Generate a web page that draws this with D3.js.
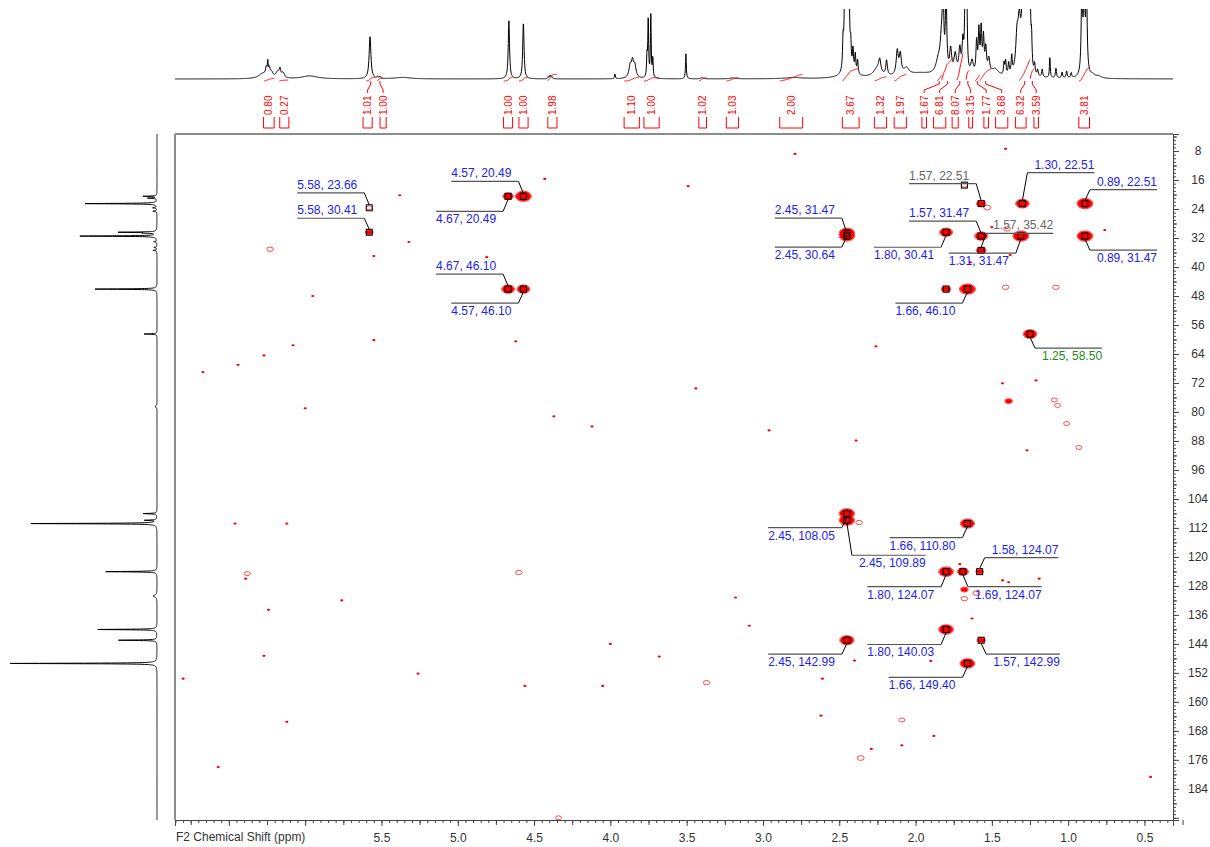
<!DOCTYPE html>
<html>
<head>
<meta charset="utf-8">
<script src="https://cdn.jsdelivr.net/npm/d3@7"></script>
<style>
  body { margin: 0; background: #fff; }
  text { font-family: "Liberation Sans", Arial, sans-serif; }
</style>
</head>
<body>
<script>
// ---- data ----

// labelled cross peaks: [1H ppm, 13C ppm, relative intensity, group]
const crossPeaks = [
  [5.58, 23.66, 0.15, "b"], [5.58, 30.41, 0.3, "b"],
  [4.57, 20.49, 1.0, "b"], [4.67, 20.49, 0.55, "b"],
  [4.67, 46.10, 0.75, "b"], [4.57, 46.10, 0.75, "b"],
  [2.45, 31.47, 0.95, "b"], [2.45, 30.64, 0.95, "b"],
  [1.57, 22.51, 0.45, "g"], [1.30, 22.51, 0.8, "b"], [0.89, 22.51, 1.0, "b"],
  [1.57, 31.47, 0.75, "b"], [1.80, 30.41, 0.75, "b"], [1.57, 35.42, 0.5, "g"],
  [1.31, 31.47, 1.0, "b"], [0.89, 31.47, 1.0, "b"],
  [1.66, 46.10, 1.0, "b"], [1.25, 58.50, 0.8, "h"],
  [2.45, 108.05, 0.95, "b"], [2.45, 109.89, 0.95, "b"], [1.66, 110.80, 0.85, "b"],
  [1.58, 124.07, 0.3, "b"], [1.80, 124.07, 0.9, "b"], [1.69, 124.07, 0.6, "b"],
  [1.80, 140.03, 0.9, "b"], [2.45, 142.99, 0.85, "b"], [1.57, 142.99, 0.35, "b"],
  [1.66, 149.40, 0.9, "b"]
];

// peaks picked but not labelled
const markedOnly = [[1.68, 17.4, 0.2], [1.80, 46.10, 0.45]];

// weak contours / noise: [1H ppm, 13C ppm, intensity]
const noiseSpots = [
  [2.79, 8.8, 0.08], [1.41, 7.4, 0.08], [4.43, 15.7, 0.06], [5.38, 20.2, 0.08],
  [5.32, 33.1, 0.06], [5.55, 37.0, 0.08], [6.23, 35.1, 0.2], [5.95, 48.0, 0.08],
  [3.49, 17.7, 0.06], [4.81, 37.3, 0.05], [1.41, 45.6, 0.2], [1.08, 45.6, 0.2],
  [5.55, 60.2, 0.08], [4.62, 60.5, 0.08], [6.27, 64.4, 0.1], [6.08, 61.6, 0.05],
  [6.67, 69.0, 0.06], [6.44, 67.0, 0.05], [2.26, 61.9, 0.08], [1.43, 72.1, 0.06],
  [1.21, 71.3, 0.06], [1.39, 77.0, 0.3], [1.09, 76.7, 0.15], [1.07, 78.2, 0.15],
  [1.01, 83.2, 0.15], [0.93, 89.8, 0.15], [1.27, 90.6, 0.08], [3.44, 73.5, 0.06],
  [4.37, 81.2, 0.12], [4.12, 84.0, 0.05], [2.96, 85.1, 0.08], [2.39, 87.9, 0.08],
  [6.0, 79.0, 0.05], [6.12, 110.8, 0.12], [6.46, 110.8, 0.05], [6.38, 124.6, 0.15],
  [6.39, 126.0, 0.12], [4.60, 124.3, 0.2], [6.24, 134.6, 0.06], [5.76, 132.0, 0.12],
  [3.18, 131.2, 0.08], [3.09, 139.0, 0.05], [4.0, 144.0, 0.12], [3.68, 147.5, 0.08],
  [6.27, 147.3, 0.06], [6.80, 153.6, 0.08], [5.26, 152.2, 0.06], [4.56, 155.6, 0.12],
  [4.05, 155.6, 0.05], [3.37, 154.7, 0.2], [2.61, 153.6, 0.05], [2.40, 148.6, 0.08],
  [6.12, 165.5, 0.08], [2.62, 163.8, 0.05], [2.09, 165.0, 0.15], [2.29, 173.0, 0.05],
  [2.36, 175.5, 0.25], [6.57, 178.0, 0.05], [0.46, 180.7, 0.1], [4.34, 192.0, 0.15],
  [1.68, 129.0, 0.3], [1.60, 130.0, 0.25], [1.68, 131.5, 0.2], [1.71, 122.0, 0.1],
  [1.43, 126.5, 0.1], [1.63, 137.0, 0.08], [1.90, 148.7, 0.06], [1.88, 169.4, 0.06],
  [2.09, 172.0, 0.1], [0.76, 29.8, 0.06], [1.50, 29.0, 0.06], [1.64, 38.7, 0.06],
  [1.38, 36.7, 0.1], [1.53, 23.6, 0.25], [1.40, 29.5, 0.2], [2.37, 110.5, 0.2],
  [1.19, 126.0, 0.1], [1.39, 127.0, 0.06]
];

// 1H projection: [ppm, height, half width]
const protonPeaks = [
  [6.28, 5, 0.03], [6.255, 8, 0.006], [6.245, 12, 0.003], [6.235, 8, 0.006], [6.22, 5, 0.01],
  [6.18, 6, 0.015], [6.165, 7, 0.006], [6.145, 5, 0.01], [5.97, 3, 0.06],
  [5.575, 42, 0.007], [5.525, 2, 0.004], [5.51, 2, 0.004], [5.36, 1.5, 0.06],
  [4.665, 58, 0.005], [4.57, 57, 0.005],
  [4.405, 2.5, 0.004], [4.395, 3, 0.004], [4.385, 2.5, 0.004], [3.97, 5, 0.003],
  [3.87, 12, 0.01], [3.855, 14, 0.008], [3.84, 12, 0.01],
  [3.76, 21, 0.003], [3.752, 62, 0.003], [3.735, 62, 0.003], [3.722, 20, 0.003],
  [3.505, 25, 0.003], [3.40, 1.2, 0.01], [3.20, 1.0, 0.02], [2.80, 1.2, 0.06],
  [2.475, 30, 0.004], [2.465, 70, 0.004], [2.455, 75, 0.004], [2.445, 72, 0.004],
  [2.435, 65, 0.004], [2.425, 25, 0.004], [2.41, 22, 0.004], [2.395, 18, 0.004],
  [2.38, 14, 0.004], [2.44, 6, 0.05],
  [2.25, 9, 0.03], [2.235, 12, 0.008], [2.19, 15, 0.006], [2.12, 24, 0.008],
  [2.10, 20, 0.008], [2.06, 7, 0.02], [1.97, 5, 0.12],
  [1.85, 14, 0.02], [1.83, 28, 0.01], [1.82, 80, 0.005], [1.80, 80, 0.005],
  [1.77, 24, 0.008], [1.74, 20, 0.01], [1.71, 25, 0.008], [1.69, 30, 0.006],
  [1.675, 90, 0.004], [1.665, 90, 0.004], [1.63, 14, 0.01],
  [1.60, 32, 0.005], [1.585, 42, 0.005], [1.57, 45, 0.005], [1.555, 35, 0.005],
  [1.54, 25, 0.006], [1.52, 15, 0.008], [1.48, 8, 0.03],
  [1.42, 12, 0.004], [1.41, 14, 0.004], [1.39, 12, 0.004], [1.37, 18, 0.004],
  [1.335, 35, 0.01], [1.32, 45, 0.01], [1.30, 55, 0.01], [1.285, 80, 0.005],
  [1.27, 90, 0.005], [1.26, 90, 0.005], [1.25, 80, 0.004], [1.24, 30, 0.004],
  [1.22, 10, 0.004], [1.20, 6, 0.004], [1.17, 8, 0.004], [1.12, 22, 0.003],
  [1.08, 10, 0.004], [1.04, 6, 0.004], [1.01, 7, 0.004], [0.98, 5, 0.004],
  [0.91, 90, 0.005], [0.895, 95, 0.005], [0.88, 90, 0.005], [0.84, 3, 0.02], [0.80, 2, 0.02]
];

// 13C projection: [ppm, height, half width]
const carbonPeaks = [
  [20.49, 14, 0.08], [21.0, 9, 0.08], [22.51, 73, 0.08], [23.66, 4, 0.1], [24.6, 4, 0.1],
  [30.41, 38, 0.08], [30.64, 10, 0.08], [31.47, 78, 0.08], [33.0, 3, 0.1], [34.6, 3, 0.1],
  [35.42, 4, 0.1], [46.10, 62, 0.08], [58.50, 13, 0.08], [78.5, 2, 0.2],
  [108.05, 14, 0.08], [109.89, 12, 0.08], [110.80, 126, 0.08],
  [124.07, 52, 0.08], [130.8, 4, 0.3], [140.03, 60, 0.08], [142.99, 39, 0.08], [149.40, 147, 0.08]
];

// 1H integrals
const integralFrom = [6.27, 6.17, 5.60, 5.53, 4.70, 4.60, 4.41, 3.91, 3.78, 3.42, 3.24, 2.89,
  2.48, 2.27, 2.14, 1.86, 1.83, 1.73, 1.67, 1.61, 1.58, 1.32, 1.25, 0.93];
const integralTo = [6.20, 6.11, 5.54, 5.49, 4.64, 4.54, 4.35, 3.81, 3.68, 3.37, 3.16, 2.74,
  2.37, 2.19, 2.06, 1.83, 1.75, 1.69, 1.645, 1.58, 1.50, 1.25, 1.22, 0.86];
const integralValue = [0.80, 0.27, 1.01, 1.00, 1.00, 1.00, 1.98, 1.10, 1.00, 1.02, 1.03, 2.00,
  3.67, 1.32, 1.97, 1.67, 6.81, 8.07, 3.15, 1.77, 3.68, 6.32, 3.59, 3.81];

// axis ticks
const xTickLabels = [0.5, 1.0, 1.5, 2.0, 2.5, 3.0, 3.5, 4.0, 4.5, 5.0, 5.5];
const yTickLabels = d3.range(8, 185, 8);

// label placement (side of the leader, vertical offset in px), same order as crossPeaks
const leaderLayout = [
  ["L", -15], ["L", -14], ["L", -15], ["L", 15], ["L", -15], ["L", 14], ["L", -18], ["L", 14],
  ["L", -20], ["R", -31], ["R", -14], ["L", -15], ["L", 15], ["R", -17], ["L", 17], ["R", 14],
  ["L", 14], ["R", 14], ["L", 14], ["R", 35], ["L", 14], ["R", -14], ["L", 15], ["R", 15],
  ["L", 15], ["L", 14], ["R", 14], ["L", 14]
];

// ---- drawing ----
const svg = d3.select("body").append("svg").attr("width", 1210).attr("height", 847);

const x = d3.scaleLinear().domain([6.853, 0.313]).range([175, 1173]);
const y = d3.scaleLinear().domain([3.3, 192.6]).range([134, 820]);
const hTop = d3.scaleLinear().domain([0, 70]).range([79, 9]);
const cLeft = d3.scaleLinear().domain([0, 150]).range([157, 7]);
const groupColor = d3.scaleOrdinal().domain(["b", "g", "h"]).range(["#2222ee", "#666666", "#1b8a1b"]);

const lor = (v, p) => p[1] * p[2] * p[2] / ((v - p[0]) * (v - p[0]) + p[2] * p[2]);

const defs = svg.append("defs");
defs.append("clipPath").attr("id", "clipTop")
  .append("rect").attr("x", 175).attr("y", 9).attr("width", 998).attr("height", 80);
defs.append("clipPath").attr("id", "clipLeft")
  .append("rect").attr("x", 0).attr("y", 134).attr("width", 170).attr("height", 686);
defs.append("clipPath").attr("id", "clipPlot")
  .append("rect").attr("x", 175).attr("y", 134).attr("width", 998).attr("height", 686);

// 1H trace on top
const hGrid = d3.range(0, 3271).map((k) => 6.853 - k * 0.002);
const hSpec = hGrid.map((v) => [v, d3.sum(protonPeaks, (p) => lor(v, p))]);
svg.append("path")
  .datum(hSpec)
  .attr("clip-path", "url(#clipTop)")
  .attr("fill", "none")
  .attr("stroke", "#000")
  .attr("stroke-width", 1)
  .attr("d", d3.line().x((d) => x(d[0])).y((d) => hTop(d[1])));

// 13C trace on the left
const cGrid = d3.range(0, 9466).map((k) => 3.3 + k * 0.02);
const cSpec = cGrid.map((v) => [v, d3.sum(carbonPeaks, (p) => lor(v, p))]);
svg.append("path")
  .datum(cSpec)
  .attr("clip-path", "url(#clipLeft)")
  .attr("fill", "none")
  .attr("stroke", "#000")
  .attr("stroke-width", 1)
  .attr("d", d3.line().x((d) => cLeft(d[1])).y((d) => y(d[0])));

// integrals
const integrals = integralValue.map((v, k) => {
  const pts = hSpec.filter((d) => d[0] <= integralFrom[k] && d[0] >= integralTo[k]);
  const total = d3.sum(pts, (d) => d[1]);
  let acc = 0;
  const curve = pts.map((d) => { acc += d[1]; return [d[0], acc / total]; });
  return { value: v, from: integralFrom[k], to: integralTo[k], curve: curve,
    cx: (x(integralFrom[k]) + x(integralTo[k])) / 2 };
});

// spread labels that would overlap
function spread(centers, gap) {
  const groups = [];
  centers.forEach((c, i) => {
    groups.push({ idx: [i], sum: c, n: 1, pos: c });
    while (groups.length > 1) {
      const a = groups[groups.length - 2], b = groups[groups.length - 1];
      if (b.pos - (a.pos + (a.n - 1) * gap) >= gap) break;
      const m = { idx: a.idx.concat(b.idx), sum: a.sum + b.sum, n: a.n + b.n };
      m.pos = m.sum / m.n - (m.n - 1) * gap / 2;
      groups.splice(-2, 2, m);
    }
  });
  const out = [];
  groups.forEach((g) => g.idx.forEach((i, k) => { out[i] = g.pos + k * gap; }));
  return out;
}
const labelX = spread(integrals.map((d) => d.cx), 15.5);

const gInt = svg.append("g").attr("stroke", "#ff0000").attr("fill", "none");
integrals.forEach((d, k) => {
  gInt.append("path")
    .datum(d.curve)
    .attr("stroke-width", 1)
    .attr("d", d3.line().x((p) => x(p[0])).y((p) => 81 - p[1] * d.value * 3.4));
  const w = Math.max(3, x(d.to) - x(d.from));
  const lx = labelX[k];
  gInt.append("path")
    .attr("stroke-width", 1)
    .attr("d", `M${lx - w / 2},117V128H${lx + w / 2}V117`);
  if (Math.abs(lx - d.cx) > 2) {
    gInt.append("path")
      .attr("stroke-width", 1)
      .attr("d", `M${lx},93V90L${d.cx},84V81`);
  }
  svg.append("text")
    .attr("transform", `translate(${lx},115) rotate(-90)`)
    .attr("dy", "0.35em")
    .attr("fill", "#ff0000")
    .style("font-size", "10px")
    .text(d.value.toFixed(2));
});

// frame
svg.append("line").attr("x1", 175).attr("x2", 1173).attr("y1", 134).attr("y2", 134)
  .attr("stroke", "#8c8c8c").attr("stroke-width", 2);
svg.append("line").attr("x1", 175).attr("x2", 175).attr("y1", 134).attr("y2", 820)
  .attr("stroke", "#8c8c8c").attr("stroke-width", 2);

// contours
const rx = d3.scaleLinear().domain([0, 1]).range([1.5, 7.5]);
const ry = d3.scaleLinear().domain([0, 1]).range([1, 4.8]);
const gSpots = svg.append("g").attr("clip-path", "url(#clipPlot)");
const allSpots = noiseSpots.concat(markedOnly, crossPeaks);

gSpots.selectAll(".ring")
  .data(allSpots.filter((d) => d[2] >= 0.15))
  .enter()
  .append("ellipse")
  .attr("class", "ring")
  .attr("cx", (d) => x(d[0]))
  .attr("cy", (d) => y(d[1]))
  .attr("rx", (d) => rx(d[2]) + 0.6)
  .attr("ry", (d) => ry(d[2]) + 0.4)
  .attr("fill", "none")
  .attr("stroke", "#ff2020")
  .attr("stroke-width", 0.8);

gSpots.selectAll(".blob")
  .data(allSpots.filter((d) => d[2] >= 0.3 || d[2] < 0.15))
  .enter()
  .append("ellipse")
  .attr("class", "blob")
  .attr("cx", (d) => x(d[0]))
  .attr("cy", (d) => y(d[1]))
  .attr("rx", (d) => (d[2] < 0.15 ? 1.6 : rx(d[2])))
  .attr("ry", (d) => (d[2] < 0.15 ? 1.1 : ry(d[2])))
  .attr("fill", "#ff0000");

gSpots.selectAll(".core")
  .data(allSpots.filter((d) => d[2] >= 0.5))
  .enter()
  .append("ellipse")
  .attr("class", "core")
  .attr("cx", (d) => x(d[0]))
  .attr("cy", (d) => y(d[1]))
  .attr("rx", (d) => rx(d[2]) * 0.55)
  .attr("ry", (d) => ry(d[2]) * 0.55)
  .attr("fill", "none")
  .attr("stroke", "#d40000")
  .attr("stroke-width", 0.6);

// peak markers
svg.append("g")
  .selectAll("rect")
  .data(markedOnly.concat(crossPeaks))
  .enter()
  .append("rect")
  .attr("x", (d) => x(d[0]) - 3)
  .attr("y", (d) => y(d[1]) - 3)
  .attr("width", 6)
  .attr("height", 6)
  .attr("fill", "none")
  .attr("stroke", "#000")
  .attr("stroke-width", 1);

// peak labels with leaders
const gLab = svg.append("g");
crossPeaks.forEach((p, k) => {
  const side = leaderLayout[k][0], dy = leaderLayout[k][1];
  const px = x(p[0]), py = y(p[1]);
  const sgn = side === "L" ? -1 : 1;
  const ex = px + sgn * 5, ey = py + dy;
  const t = gLab.append("text")
    .attr("fill", groupColor(p[3]))
    .style("font-size", "12px")
    .text(`${p[0].toFixed(2)}, ${p[1].toFixed(2)}`);
  const len = t.node().getComputedTextLength() + 7;
  const x2 = ex + sgn * len;
  t.attr("x", x2)
    .attr("text-anchor", side === "L" ? "start" : "end")
    .attr("y", dy < 0 ? ey - 4 : ey + 12);
  gLab.append("path")
    .attr("d", `M${px},${py + Math.sign(dy) * 3}L${ex},${ey}`)
    .attr("stroke", "#000").attr("fill", "none").attr("stroke-width", 1);
  gLab.append("path")
    .attr("d", `M${ex},${ey}H${x2}`)
    .attr("stroke", "#555").attr("fill", "none").attr("stroke-width", 1.2);
});

// bottom axis
const xMinor = d3.range(7, 138).map((k) => +(k * 0.05).toFixed(2));
const xMid = d3.range(1, 28, 2).map((k) => k * 0.25).filter((v) => v < 6.85);
const xMajor = d3.range(1, 14).map((k) => k * 0.5);
function styleAxis(g) {
  g.select(".domain").attr("stroke", "#444");
  g.selectAll(".tick line").attr("stroke", "#444");
  g.selectAll(".tick text").attr("fill", "#333").style("font-size", "12px")
    .style("font-family", '"Liberation Sans", Arial, sans-serif');
}
svg.append("g").attr("transform", "translate(0,820)")
  .call(d3.axisBottom(x).tickValues(xMinor).tickSize(3).tickFormat("")).call(styleAxis);
svg.append("g").attr("transform", "translate(0,820)")
  .call(d3.axisBottom(x).tickValues(xMid).tickSize(5).tickFormat("")).call(styleAxis);
svg.append("g").attr("transform", "translate(0,820)")
  .call(d3.axisBottom(x).tickValues(xMajor).tickSize(6).tickPadding(7)
    .tickFormat((v) => (xTickLabels.includes(v) ? d3.format(".1f")(v) : "")))
  .call(styleAxis);

svg.append("text")
  .attr("x", 176).attr("y", 841)
  .attr("fill", "#333")
  .style("font-size", "12px")
  .text("F2 Chemical Shift (ppm)");

// right axis
const yMinor = d3.range(4, 193);
const yMid = d3.range(4, 193, 8);
const yMajor = d3.range(8, 193, 8);
svg.append("g").attr("transform", "translate(1173,0)")
  .call(d3.axisRight(y).tickValues(yMinor).tickSize(3).tickFormat("")).call(styleAxis);
svg.append("g").attr("transform", "translate(1173,0)")
  .call(d3.axisRight(y).tickValues(yMid).tickSize(4).tickFormat("")).call(styleAxis);
svg.append("g").attr("transform", "translate(1173,0)")
  .call(d3.axisRight(y).tickValues(yMajor).tickSize(6)
    .tickFormat((v) => (yTickLabels.includes(v) ? v : "")))
  .call(styleAxis)
  .call((g) => g.selectAll(".tick text").attr("x", 25).attr("text-anchor", "middle"));
</script>
</body>
</html>
